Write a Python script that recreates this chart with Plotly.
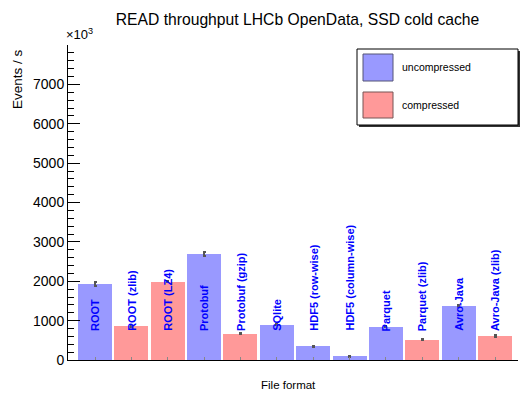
import plotly.graph_objects as go

# ---- data ----
formats = ["ROOT", "ROOT (zlib)", "ROOT (LZ4)", "Protobuf", "Protobuf (gzip)", "SQlite",
           "HDF5 (row-wise)", "HDF5 (column-wise)", "Parquet", "Parquet (zlib)",
           "Avro-Java", "Avro-Java (zlib)"]
compressed = [False, True, True, False, True, False, False, False, False, True, False, True]
throughput = [1930, 860, 1990, 2690, 670, 890, 350, 100, 840, 510, 1370, 610]
errors = [50, 20, 20, 50, 20, 20, 20, 20, 20, 20, 25, 25]
y_ticks = [0, 1000, 2000, 3000, 4000, 5000, 6000, 7000]

BLUE = "#9999ff"
RED = "#ff9999"
FONT = "Liberation Sans, Arial, sans-serif"

W, H = 527, 394
L, R, T, B = 68, 9, 45, 34
PW, PH = W - L - R, H - T - B


def px(xp):
    return (xp - L) / PW


def py(yp):
    return (H - B - yp) / PH


fig = go.Figure()
pos = list(range(len(formats)))
for flag, color in [(False, BLUE), (True, RED)]:
    xs = [p for p, c in zip(pos, compressed) if c == flag]
    ys = [v for v, c in zip(throughput, compressed) if c == flag]
    es = [e for e, c in zip(errors, compressed) if c == flag]
    fig.add_trace(go.Bar(
        x=xs, y=ys, width=0.935, marker=dict(color=color, line=dict(width=0)),
        error_y=dict(type="data", array=es, color="#555555", thickness=1.5, width=1.5),
        showlegend=False,
    ))

# rotated labels on bars
for p, name in zip(pos, formats):
    fig.add_annotation(x=p, y=0, xref="x", yref="y", text="<b>%s</b>" % name,
                       textangle=-90, showarrow=False, yanchor="bottom", xanchor="center",
                       yshift=27, font=dict(family=FONT, size=11, color="#0000ff"))

fig.update_layout(
    width=W, height=H, margin=dict(l=L, r=R, t=T, b=B),
    paper_bgcolor="white", plot_bgcolor="white",
    font=dict(family=FONT, color="black"),
    title=dict(text="READ throughput LHCb OpenData, SSD cold cache",
               x=297.5 / W, xanchor="center", y=1 - 20 / H, yanchor="middle",
               font=dict(size=15.7, family=FONT, color="black")),
    bargap=0,
)
fig.update_xaxes(range=[-0.7425, 11.6325], showline=True, linecolor="black", linewidth=1,
                 tickmode="array", tickvals=pos, showticklabels=False,
                 ticks="inside", ticklen=3, tickcolor="#888888", showgrid=False, zeroline=False)
fig.update_yaxes(range=[0, 8000], showline=True, linecolor="black", linewidth=1,
                 tickmode="array", tickvals=y_ticks, ticktext=[str(v) for v in y_ticks],
                 ticks="inside", ticklen=12, tickcolor="black",
                 minor=dict(dtick=200, ticks="inside", ticklen=6, tickcolor="black"),
                 tickfont=dict(size=14, family=FONT), showgrid=False, zeroline=False)

# axis titles and exponent
fig.add_annotation(x=px(17), y=py(47), xref="paper", yref="paper", text="Events / s",
                   textangle=-90, showarrow=False, xanchor="center", yanchor="top",
                   font=dict(size=13.5, family=FONT))
fig.add_annotation(x=px(288), y=py(385), xref="paper", yref="paper", text="File format",
                   showarrow=False, xanchor="center", yanchor="middle",
                   font=dict(size=11.5, family=FONT))
fig.add_annotation(x=px(64), y=py(44), xref="paper", yref="paper", text="×10<sup>3</sup>",
                   showarrow=False, xanchor="left", yanchor="bottom",
                   font=dict(size=13, family=FONT))

# legend (drawn manually, ROOT style)
shapes = []
shapes.append(dict(type="rect", xref="paper", yref="paper", x0=px(359), x1=px(520),
                   y0=py(127), y1=py(51), fillcolor="#333333", line=dict(width=0)))
shapes.append(dict(type="rect", xref="paper", yref="paper", x0=px(357), x1=px(518),
                   y0=py(125), y1=py(49), fillcolor="white", line=dict(color="black", width=1)))
for (ytop, ybot, color, edge, label) in [(54, 81, BLUE, "#555577", "uncompressed"),
                                         (92, 118, RED, "#775555", "compressed")]:
    shapes.append(dict(type="rect", xref="paper", yref="paper", x0=px(363), x1=px(393),
                       y0=py(ybot), y1=py(ytop), fillcolor=color, line=dict(color=edge, width=1)))
    fig.add_annotation(x=px(400), y=py((ytop + ybot) / 2), xref="paper", yref="paper",
                       text=label, showarrow=False, xanchor="left", yanchor="middle",
                       font=dict(size=10.5, family=FONT))
fig.update_layout(shapes=shapes)

fig.write_html("out.html")
